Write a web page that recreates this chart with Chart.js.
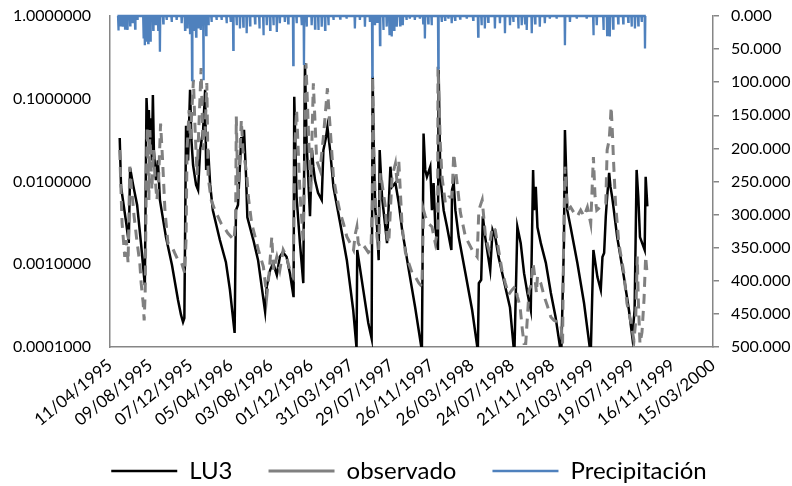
<!DOCTYPE html>
<html><head><meta charset="utf-8">
<script src="https://cdn.jsdelivr.net/npm/chart.js@4.4.1/dist/chart.umd.min.js"></script>
<style>html,body{margin:0;padding:0;background:#fff;}#wrap{width:792px;height:486px;}</style>
</head><body><div id="wrap"><canvas id="c" width="792" height="486"></canvas></div>
<script>
// Dates are Excel serial day numbers (34800 = 11/04/1995)
const xTickLabels = ["11/04/1995","09/08/1995","07/12/1995","05/04/1996","03/08/1996","01/12/1996","31/03/1997","29/07/1997","26/11/1997","26/03/1998","24/07/1998","21/11/1998","21/03/1999","19/07/1999","16/11/1999","15/03/2000"];
const yTickValues = [0.0001, 0.001, 0.01, 0.1, 1];
const yTickLabels = ["0.0001000","0.0010000","0.0100000","0.1000000","1.0000000"];

const lu3Dates = [34829,34833,34848,34856,34860,34869,34881,34893,34904,34909,34913,34916,34919,34922,34925,34928,34931,34937,34943,34949,34967,34985,35003,35012,35018,35022,35027,35033,35039,35043,35048,35057,35063,35069,35078,35084,35087,35093,35099,35107,35128,35146,35158,35172,35176,35182,35192,35197,35200,35206,35210,35228,35242,35263,35268,35278,35287,35298,35307,35316,35327,35337,35348,35350,35357,35367,35377,35382,35387,35397,35403,35407,35412,35421,35432,35437,35445,35449,35457,35467,35487,35507,35526,35536,35538,35556,35571,35581,35584,35587,35592,35597,35602,35605,35612,35622,35627,35637,35642,35652,35662,35672,35692,35711,35731,35736,35741,35746,35756,35761,35766,35771,35779,35781,35786,35796,35806,35819,35821,35826,35831,35841,35861,35881,35898,35901,35908,35913,35920,35935,35942,35950,35960,35980,35994,36007,36016,36026,36036,36046,36056,36063,36066,36071,36076,36086,36101,36116,36130,36147,36155,36158,36165,36175,36195,36215,36235,36243,36255,36265,36270,36275,36280,36284,36290,36294,36299,36304,36314,36334,36349,36359,36366,36372,36377,36382,36396,36399,36404];
const lu3Values = [0.0336,0.0086,0.00324,0.00181,0.0146,0.0091,0.0052,0.00171,0.00056,0.102,0.042,0.073,0.024,0.058,0.018,0.111,0.024,0.0104,0.018,0.006,0.00213,0.00098,0.00037,0.000244,0.0002,0.000224,0.047,0.018,0.128,0.032,0.0158,0.0091,0.0079,0.024,0.042,0.128,0.0138,0.024,0.0091,0.0045,0.00196,0.00106,0.00049,0.000148,0.0045,0.0052,0.0345,0.024,0.042,0.012,0.0037,0.00196,0.00112,0.000267,0.00054,0.00085,0.00103,0.00074,0.00123,0.0014,0.00123,0.00078,0.0004,0.106,0.0065,0.0018,0.00059,0.27,0.029,0.0038,0.024,0.015,0.0104,0.0073,0.006,0.024,0.0345,0.0456,0.024,0.0086,0.00315,0.00112,0.00028,0.0000964,0.00149,0.00049,0.000195,0.000127,0.185,0.029,0.0045,0.00284,0.00112,0.024,0.0065,0.0028,0.0018,0.0151,0.0086,0.0096,0.0055,0.0026,0.00085,0.0003,0.00009,0.038,0.0138,0.0114,0.0151,0.0045,0.0096,0.0028,0.00149,0.222,0.0114,0.0045,0.00284,0.00149,0.0079,0.0096,0.0045,0.00213,0.00078,0.00028,0.00009,0.00059,0.00065,0.0038,0.00213,0.00085,0.0026,0.00213,0.00122,0.00053,0.0003,0.00008,0.00284,0.0018,0.00078,0.00045,0.00028,0.0138,0.0045,0.0086,0.0028,0.0018,0.00104,0.00045,0.00023,0.00008,0.0018,0.042,0.0045,0.0028,0.00104,0.00034,0.00008,0.00149,0.0007,0.00049,0.00122,0.00137,0.0038,0.0065,0.0127,0.0086,0.0065,0.0045,0.00213,0.0007,0.00028,0.000133,0.00028,0.0138,0.0065,0.00213,0.00149,0.0114,0.005];

const obsDates = [34829,34836,34844,34849,34854,34859,34864,34872,34880,34889,34893,34899,34902,34905,34908,34911,34916,34919,34925,34930,34934,34940,34945,34951,34957,34964,34973,34983,34993,35003,35013,35023,35027,35030,35036,35040,35049,35054,35060,35066,35072,35078,35084,35089,35093,35102,35113,35122,35132,35142,35152,35162,35170,35175,35177,35182,35187,35192,35197,35202,35208,35213,35223,35233,35243,35258,35268,35275,35283,35288,35298,35307,35317,35327,35337,35347,35352,35357,35367,35372,35377,35385,35392,35399,35407,35417,35427,35437,35449,35457,35467,35477,35487,35497,35507,35517,35527,35532,35537,35541,35552,35561,35571,35579,35583,35584,35588,35592,35597,35602,35607,35612,35622,35627,35632,35637,35642,35652,35657,35662,35672,35682,35692,35702,35711,35722,35731,35736,35741,35751,35761,35771,35778,35779,35786,35791,35801,35811,35821,35826,35836,35846,35861,35881,35896,35901,35911,35921,35931,35941,35950,35960,35970,35980,35990,36000,36010,36016,36024,36031,36036,36041,36046,36051,36056,36063,36068,36073,36076,36086,36096,36106,36116,36125,36136,36146,36151,36154,36158,36165,36175,36185,36195,36205,36215,36225,36235,36239,36243,36248,36253,36263,36273,36280,36284,36290,36293,36296,36300,36303,36309,36319,36334,36343,36355,36364,36369,36374,36377,36382,36388,36394,36399,36404];
const obsValues = [0.024,0.00315,0.00123,0.00196,0.00104,0.0151,0.0086,0.0038,0.00196,0.00103,0.00059,0.00034,0.00021,0.00045,0.0073,0.0456,0.006,0.042,0.0079,0.024,0.0119,0.006,0.0104,0.05,0.018,0.0045,0.00179,0.00171,0.00137,0.00112,0.00106,0.00078,0.00196,0.024,0.073,0.032,0.169,0.042,0.012,0.055,0.235,0.024,0.042,0.155,0.0114,0.006,0.0045,0.0038,0.0031,0.00274,0.00237,0.00213,0.00196,0.0034,0.061,0.006,0.018,0.055,0.024,0.018,0.0126,0.0065,0.0031,0.00215,0.00149,0.00093,0.00041,0.00078,0.00215,0.00085,0.00123,0.00085,0.00149,0.00123,0.00085,0.00071,0.029,0.073,0.0073,0.0037,0.0018,0.268,0.0456,0.0073,0.154,0.018,0.0138,0.0345,0.134,0.0456,0.0114,0.0065,0.0042,0.0031,0.00215,0.0018,0.00149,0.0023,0.00284,0.0018,0.00149,0.0016,0.00139,0.00149,0.006,0.185,0.018,0.006,0.00215,0.00149,0.0126,0.0096,0.0049,0.00215,0.0018,0.0045,0.0114,0.0165,0.0096,0.018,0.00284,0.00137,0.00103,0.00078,0.00071,0.00059,0.00054,0.0045,0.0038,0.0031,0.00284,0.0018,0.0026,0.244,0.029,0.0114,0.0055,0.0065,0.0065,0.0218,0.0096,0.0042,0.00215,0.00149,0.00123,0.0045,0.006,0.00215,0.00149,0.00284,0.0026,0.00149,0.00085,0.00059,0.00043,0.00049,0.00054,0.00041,0.00031,0.00016,0.00011,0.00011,0.00023,0.00049,0.00054,0.00103,0.00071,0.00045,0.00071,0.00059,0.00041,0.00031,0.00023,0.00021,0.0002,0.00019,0.00011,0.0018,0.0151,0.0045,0.0049,0.0042,0.0038,0.0045,0.0038,0.0049,0.0031,0.0079,0.0198,0.0065,0.0045,0.0049,0.0055,0.0055,0.024,0.0316,0.048,0.08,0.0365,0.018,0.0055,0.00179,0.00078,0.00034,0.0002,0.00012,0.0002,0.00124,0.00037,0.00011,0.00015,0.00037,0.00124,0.00071];

// Rain days (mm); all other days are dry (0 mm)
const precDates = [34825,34830,34838,34845,34852,34860,34868,34875,34882,34900,34904,34909,34914,34921,34929,34937,34944,34949,34959,34969,34984,34999,35014,35024,35031,35039,35045,35051,35057,35064,35071,35079,35087,35094,35103,35118,35133,35148,35160,35168,35178,35188,35198,35208,35218,35233,35246,35258,35268,35278,35288,35298,35307,35322,35332,35347,35357,35372,35379,35387,35402,35412,35422,35432,35442,35452,35467,35487,35506,35531,35546,35561,35576,35583,35591,35598,35606,35616,35626,35634,35641,35648,35656,35666,35674,35685,35695,35710,35725,35735,35740,35750,35760,35780,35790,35800,35810,35820,35830,35845,35865,35884,35899,35909,35919,35929,35949,35964,35979,35994,36004,36019,36029,36039,36044,36059,36069,36083,36098,36113,36133,36158,36173,36193,36223,36243,36253,36273,36284,36292,36302,36317,36332,36347,36357,36367,36377,36387,36397];
const precValues = [22,14,16,19,21,14,11,19,6,34,44,39,41,39,21,14,21,54,11,6,9,6,11,21,19,26,97,21,31,19,21,97,29,14,9,6,6,11,9,51,14,19,16,26,14,11,19,29,14,21,14,24,11,9,11,74,11,14,74,16,14,19,21,16,21,14,6,4,4,19,6,16,9,92,14,9,44,21,16,29,31,21,16,14,14,6,4,6,4,11,34,11,14,79,9,6,4,11,6,4,4,6,31,14,19,9,19,11,26,14,9,19,14,11,21,26,11,16,11,4,4,44,9,4,4,29,14,21,29,31,19,11,11,9,16,19,14,9,49];

const lu3Data = lu3Dates.map((x, i) => ({x, y: lu3Values[i]}));
const obsData = obsDates.map((x, i) => ({x, y: obsValues[i]}));
const precData = [];
precDates.forEach((x, i) => { precData.push({x: x - 1, y: 0}, {x, y: precValues[i]}, {x: x + 1, y: 0}); });

const tickFont = {family: 'Lato', size: 16};
const axisColor = '#868686';

// centre the legend under the plot area and lift it under the date labels, like the original
const legendShift = {
  id: 'legendShift',
  afterLayout(chart) {
    const lg = chart.legend;
    if (lg) { lg.left += 13; lg.right += 13; lg.top -= 19; lg.bottom -= 19; }
  }
};

new Chart(document.getElementById('c'), {
  type: 'line',
  data: {
    datasets: [
      {label: 'LU3', data: lu3Data, yAxisID: 'y', borderColor: '#000000', backgroundColor: '#000000', borderWidth: 2.5, pointRadius: 0, pointStyle: 'line', tension: 0, order: 2},
      {label: 'observado', data: obsData, yAxisID: 'y', borderColor: '#808080', backgroundColor: '#808080', borderWidth: 3, borderDash: [10, 7], pointRadius: 0, pointStyle: 'line', tension: 0, order: 1},
      {label: 'Precipitación', data: precData, yAxisID: 'y2', borderColor: '#4F81BD', backgroundColor: '#4F81BD', borderWidth: 2.3, pointRadius: 0, pointStyle: 'line', tension: 0, order: 0, clip: 3}
    ]
  },
  plugins: [legendShift],
  options: {
    responsive: false,
    animation: false,
    events: [],
    layout: {padding: {left: 0, top: 16, right: 0, bottom: -26}},
    plugins: {
      legend: {
        position: 'bottom',
        labels: {usePointStyle: true, pointStyleWidth: 66, padding: 36, color: '#000', font: {family: 'Lato', size: 24},
          sort: (a, b) => a.datasetIndex - b.datasetIndex}
      },
      tooltip: {enabled: false}
    },
    scales: {
      x: {
        type: 'linear', position: 'bottom', min: 34800, max: 36600,
        ticks: {stepSize: 120, autoSkip: false, minRotation: 39, maxRotation: 39, padding: 8, color: '#000', font: {family: 'Lato', size: 17},
          callback: (v, i) => xTickLabels[i]},
        grid: {display: false, drawTicks: false},
        border: {display: true, color: axisColor, width: 1.5},
        afterFit: (s) => { s.height = 95; s.paddingLeft = 0; s.paddingRight = 0; }
      },
      y: {
        type: 'logarithmic', position: 'left', min: 0.0001, max: 1,
        afterBuildTicks: (s) => { s.ticks = yTickValues.map(v => ({value: v})); },
        ticks: {autoSkip: false, padding: 19, color: '#000', font: tickFont, callback: (v, i) => yTickLabels[i]},
        grid: {display: false, drawTicks: false},
        border: {display: true, color: axisColor, width: 1.5},
        afterFit: (s) => { s.width = 110; s.paddingTop = 0; s.paddingBottom = 0; }
      },
      y2: {
        type: 'linear', position: 'right', reverse: true, min: 0, max: 500,
        ticks: {stepSize: 50, autoSkip: false, padding: 12, color: '#000', font: tickFont, callback: (v) => Number(v).toFixed(3)},
        grid: {drawOnChartArea: false, drawTicks: true, tickLength: 6, color: axisColor, lineWidth: 1.5},
        border: {display: true, color: axisColor, width: 1.5},
        afterFit: (s) => { s.width = 79; s.paddingTop = 0; s.paddingBottom = 0; }
      }
    }
  }
});
</script>
</body></html>
